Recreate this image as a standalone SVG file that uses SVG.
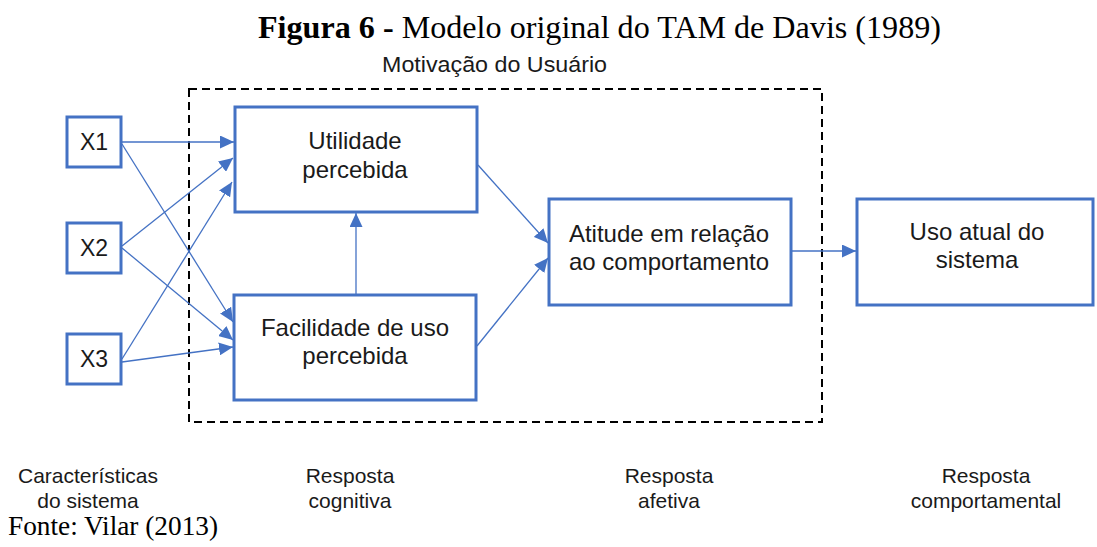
<svg xmlns="http://www.w3.org/2000/svg" width="1097" height="547" viewBox="0 0 1097 547">
<style>
.box{fill:#fff;stroke:#4472C4;stroke-width:3}
.lbl{font-family:"Liberation Sans",Arial,sans-serif;font-size:24px;fill:#1a1a1a;text-anchor:middle}
.xl{font-family:"Liberation Sans",Arial,sans-serif;font-size:23px;fill:#1a1a1a;text-anchor:middle}
.cap{font-family:"Liberation Sans",Arial,sans-serif;font-size:21px;fill:#1a1a1a;text-anchor:middle}
.con{stroke:#4472C4;stroke-width:1.3;fill:none;marker-end:url(#ah)}
.tt{font-family:"Liberation Serif","Times New Roman",serif;fill:#000}
</style>
<defs>
<marker id="ah" markerUnits="userSpaceOnUse" markerWidth="15" markerHeight="13" refX="14" refY="6.5" orient="auto">
<path d="M0,0 L14,6.5 L0,13 z" fill="#4472C4"/>
</marker>
</defs>
<text class="tt" x="258" y="38" font-size="32" textLength="683" lengthAdjust="spacingAndGlyphs"><tspan font-weight="bold">Figura 6 -</tspan> Modelo original do TAM de Davis (1989)</text>
<text x="382" y="72" font-family="Liberation Sans, Arial, sans-serif" font-size="22" fill="#1a1a1a" textLength="225" lengthAdjust="spacingAndGlyphs">Motivação do Usuário</text>
<rect x="189" y="89" width="633" height="333" fill="none" stroke="#000" stroke-width="2" stroke-dasharray="8,5"/>
<g id="connectors">
<path class="con" d="M121,142 L234,142"/>
<path class="con" d="M122,144 L233,322"/>
<path class="con" d="M122,246 L233,158"/>
<path class="con" d="M122,248 L233,340"/>
<path class="con" d="M122,359 L232,182"/>
<path class="con" d="M122,362 L233,347"/>
<path class="con" d="M478,165 L548,243"/>
<path class="con" d="M477,346 L548,258"/>
<path class="con" d="M356,294 L356,213"/>
<path class="con" d="M791,251 L856,251"/>
</g>
<g id="x1"><rect class="box" x="67" y="117" width="54" height="50"/><text class="xl" x="94" y="150">X1</text></g>
<g id="x2"><rect class="box" x="67" y="223" width="54" height="50"/><text class="xl" x="94" y="256">X2</text></g>
<g id="x3"><rect class="box" x="67" y="334" width="54" height="50"/><text class="xl" x="94" y="367">X3</text></g>
<g id="utilidade"><rect class="box" x="235" y="107" width="242" height="105"/><text class="lbl" x="355" y="149">Utilidade</text><text class="lbl" x="355" y="178">percebida</text></g>
<g id="facilidade"><rect class="box" x="234" y="295" width="242" height="105"/><text class="lbl" x="355" y="336">Facilidade de uso</text><text class="lbl" x="355" y="364">percebida</text></g>
<g id="atitude"><rect class="box" x="549" y="199" width="242" height="106"/><text class="lbl" x="669" y="242">Atitude em relação</text><text class="lbl" x="669" y="270">ao comportamento</text></g>
<g id="uso"><rect class="box" x="857" y="199" width="236" height="106"/><text class="lbl" x="977" y="240">Uso atual do</text><text class="lbl" x="977" y="268">sistema</text></g>
<g id="captions">
<text class="cap" x="88" y="483">Características</text><text class="cap" x="88" y="508">do sistema</text>
<text class="cap" x="350" y="483">Resposta</text><text class="cap" x="350" y="508">cognitiva</text>
<text class="cap" x="669" y="483">Resposta</text><text class="cap" x="669" y="508">afetiva</text>
<text class="cap" x="986" y="483">Resposta</text><text class="cap" x="986" y="508">comportamental</text>
</g>
<text class="tt" x="8" y="535" font-size="27" textLength="210" lengthAdjust="spacingAndGlyphs">Fonte: Vilar (2013)</text>
</svg>
